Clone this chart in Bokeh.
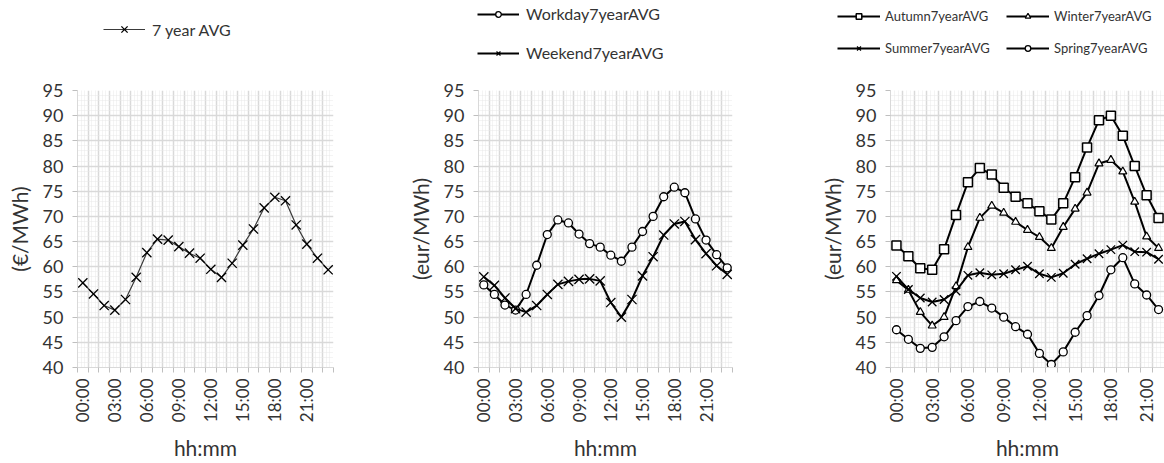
from bokeh.plotting import figure
from bokeh.models import FixedTicker, Range1d, Legend, LegendItem
from bokeh.layouts import row, column
from bokeh.embed import file_html
from bokeh.resources import INLINE

# ---------------- data ----------------
hours = list(range(24))
hour_labels = ["%02d:00" % h for h in hours]
label_hours = [0, 3, 6, 9, 12, 15, 18, 21]
y_ticks = [40, 45, 50, 55, 60, 65, 70, 75, 80, 85, 90, 95]

avg7 = [56.8, 54.6, 52.3, 51.4, 53.5, 57.9, 62.8, 65.5, 65.3, 64.0, 62.7, 61.7,
        59.5, 57.9, 60.7, 64.3, 67.5, 71.7, 73.8, 73.1, 68.3, 64.5, 61.7, 59.4]

workday = [56.4, 54.5, 52.4, 51.4, 54.5, 60.3, 66.4, 69.3, 68.7, 66.5, 64.6, 63.9,
           62.3, 61.1, 63.9, 67.0, 70.0, 73.9, 75.8, 74.7, 69.5, 65.3, 62.4, 59.8]
weekend = [58.0, 56.3, 53.8, 51.7, 51.0, 52.3, 54.5, 56.5, 57.1, 57.5, 57.6, 57.2,
           52.9, 50.0, 53.5, 58.2, 62.0, 66.3, 68.5, 69.0, 65.4, 62.6, 60.2, 58.5]

# third chart is cut at the right edge of the picture (00:00 .. 22:00 visible)
season_hours = hours[:23]
autumn = [64.2, 62.1, 59.7, 59.4, 63.5, 70.3, 76.8, 79.6, 78.3, 75.7, 73.9, 72.6,
          71.0, 69.4, 72.6, 77.8, 83.7, 89.1, 90.0, 86.0, 80.0, 74.2, 69.7]
winter = [57.3, 55.4, 51.0, 48.3, 50.0, 56.1, 63.9, 69.7, 72.1, 70.7, 68.9, 67.3,
          65.9, 63.7, 67.9, 71.5, 74.7, 80.5, 81.2, 78.9, 72.9, 66.0, 63.7]
summer = [58.1, 55.5, 53.8, 53.0, 53.5, 55.2, 58.3, 58.8, 58.4, 58.6, 59.4, 60.1,
          58.6, 57.9, 58.7, 60.5, 61.6, 62.6, 63.4, 64.3, 63.0, 62.9, 61.5]
spring = [47.5, 45.6, 43.8, 44.0, 46.1, 49.3, 52.1, 53.1, 51.8, 50.0, 48.1, 46.6,
          42.8, 40.6, 43.1, 47.0, 50.3, 54.3, 59.4, 61.8, 56.6, 54.4, 51.5]

# ---------------- style ----------------
FONT = "Lato"
TXT = "#333333"
GRID = "#d9d9d9"
MINOR = "#e8e8e8"

STYLES = {
    "7 year AVG": dict(line=dict(line_color="#3a3a3a", line_width=1.2),
                       marker=dict(marker="x", size=13, line_color="black", line_width=1.3)),
    "Workday7yearAVG": dict(line=dict(line_color="black", line_width=2),
                            marker=dict(marker="circle", size=8, fill_color="white",
                                        line_color="black", line_width=1.3)),
    "Weekend7yearAVG": dict(line=dict(line_color="black", line_width=2),
                            marker=dict(marker="x", size=13, line_color="black", line_width=1.3)),
    "Autumn7yearAVG": dict(line=dict(line_color="black", line_width=2),
                           marker=dict(marker="square", size=9, fill_color="white",
                                       line_color="black", line_width=1.5)),
    "Winter7yearAVG": dict(line=dict(line_color="black", line_width=2),
                           marker=dict(marker="triangle", size=8, fill_color="white",
                                       line_color="black", line_width=1.2)),
    "Summer7yearAVG": dict(line=dict(line_color="black", line_width=2),
                           marker=dict(marker="x", size=12, line_color="black", line_width=1.3)),
    "Spring7yearAVG": dict(line=dict(line_color="black", line_width=2),
                           marker=dict(marker="circle", size=8, fill_color="white",
                                       line_color="black", line_width=1.3)),
}
SERIES = {
    "7 year AVG": (hours, avg7),
    "Workday7yearAVG": (hours, workday),
    "Weekend7yearAVG": (hours, weekend),
    "Autumn7yearAVG": (season_hours, autumn),
    "Winter7yearAVG": (season_hours, winter),
    "Summer7yearAVG": (season_hours, summer),
    "Spring7yearAVG": (season_hours, spring),
}


def make_fig(width, height, left, right, top, bottom, x_end, ylabel):
    p = figure(width=width, height=height, output_backend="svg", toolbar_location=None,
               x_range=Range1d(-0.5, x_end), y_range=Range1d(40, 95),
               min_border_left=left, min_border_right=right,
               min_border_top=top, min_border_bottom=bottom)
    p.outline_line_color = None
    p.background_fill_color = "white"
    p.border_fill_color = "white"

    bounds = [h - 0.5 for h in range(25)]
    thirds = []
    for h in range(24):
        thirds += [h - 0.5 + 1 / 3, h - 0.5 + 2 / 3]
    p.xgrid.ticker = FixedTicker(ticks=bounds, minor_ticks=thirds)
    p.xgrid.grid_line_color = GRID
    p.xgrid.grid_line_width = 1.5
    p.xgrid.minor_grid_line_color = MINOR
    p.xgrid.minor_grid_line_dash = "1 1"
    p.ygrid.ticker = FixedTicker(ticks=y_ticks, minor_ticks=list(range(40, 96)))
    p.ygrid.grid_line_color = GRID
    p.ygrid.grid_line_width = 1.5
    p.ygrid.minor_grid_line_color = MINOR
    p.ygrid.minor_grid_line_dash = "1 1"

    xa = p.xaxis[0]
    xa.ticker = FixedTicker(ticks=label_hours, minor_ticks=bounds)
    xa.major_label_overrides = {h: hour_labels[h] for h in label_hours}
    xa.major_label_orientation = 3.14159265 / 2
    xa.major_tick_line_color = None
    xa.major_tick_out = 5
    xa.major_tick_in = 0
    xa.minor_tick_line_color = "#bfbfbf"
    xa.minor_tick_out = 5
    xa.minor_tick_in = 0
    xa.major_label_standoff = 6
    xa.axis_line_color = GRID
    xa.major_label_text_font = FONT
    xa.major_label_text_font_size = "17px"
    xa.major_label_text_color = TXT
    xa.axis_label = "hh:mm"
    xa.axis_label_text_font = FONT
    xa.axis_label_text_font_size = "21px"
    xa.axis_label_text_font_style = "normal"
    xa.axis_label_text_color = TXT
    xa.axis_label_standoff = 10

    ya = p.yaxis[0]
    ya.ticker = FixedTicker(ticks=y_ticks)
    ya.minor_tick_line_color = None
    ya.major_tick_line_color = "#bfbfbf"
    ya.major_tick_out = 5
    ya.major_tick_in = 0
    ya.major_label_standoff = 9
    ya.axis_line_color = GRID
    ya.major_label_text_font = FONT
    ya.major_label_text_font_size = "18px"
    ya.major_label_text_color = TXT
    ya.axis_label = ylabel
    ya.axis_label_text_font = FONT
    ya.axis_label_text_font_size = "21px"
    ya.axis_label_text_font_style = "normal"
    ya.axis_label_text_color = TXT
    ya.axis_label_standoff = 8
    return p


def draw(p, name):
    xs, ys = SERIES[name]
    st = STYLES[name]
    p.line(xs, ys, **st["line"])
    p.scatter(xs, ys, **st["marker"])


# ---------------- legend strip (one figure across the page) ----------------
LEG_H = 77
lf = figure(width=1164, height=LEG_H, output_backend="svg", toolbar_location=None,
            x_range=Range1d(1000, 2164), y_range=Range1d(1000, 1000 + LEG_H),
            min_border=0)
lf.axis.visible = False
lf.grid.visible = False
lf.outline_line_color = None


def add_legend(loc, names, orient="vertical", font_size="16px", spacing=22,
               label_width=20, glyph_width=42, glyph_height=14, label_height=16,
               standoff=7):
    items = []
    for n in names:
        xs, ys = SERIES[n]
        st = STYLES[n]
        r1 = lf.line(xs, ys, **st["line"])          # outside the strip's ranges: only the
        r2 = lf.scatter(xs, ys, **st["marker"])     # legend samples are visible
        items.append(LegendItem(label=n, renderers=[r1, r2]))
    lf.add_layout(Legend(items=items, location=loc, orientation=orient,
                         glyph_width=glyph_width, glyph_height=glyph_height,
                         label_height=label_height,
                         label_width=label_width, label_standoff=standoff,
                         padding=0, margin=0, spacing=spacing,
                         border_line_color=None, background_fill_alpha=0,
                         label_text_font=FONT, label_text_font_size=font_size,
                         label_text_color=TXT))


add_legend((103, 37), ["7 year AVG"], glyph_height=22, label_height=22)
add_legend((477, 15), ["Workday7yearAVG", "Weekend7yearAVG"], spacing=20)
add_legend((837, 53), ["Autumn7yearAVG", "Winter7yearAVG"], "horizontal",
           font_size="13px", spacing=8, label_width=113, glyph_width=43, standoff=5)
add_legend((837, 21), ["Summer7yearAVG", "Spring7yearAVG"], "horizontal",
           font_size="13px", spacing=8, label_width=113, glyph_width=43, standoff=5)

# ---------------- charts ----------------
CH = 463 - LEG_H
p1 = make_fig(390, CH, 77, 57, 10, 91, 23.5, "(€/MWh)")
draw(p1, "7 year AVG")

p2 = make_fig(390, CH, 88, 48, 13, 94, 23.5, "(eur/MWh)")
draw(p2, "Workday7yearAVG")
draw(p2, "Weekend7yearAVG")

p3 = make_fig(384, CH, 110, 0, 13, 91, 22.5, "(eur/MWh)")
for n in ["Autumn7yearAVG", "Winter7yearAVG", "Summer7yearAVG", "Spring7yearAVG"]:
    draw(p3, n)

layout = column(lf, row(p1, p2, p3))
open("out.html", "w").write(file_html(layout, INLINE))
